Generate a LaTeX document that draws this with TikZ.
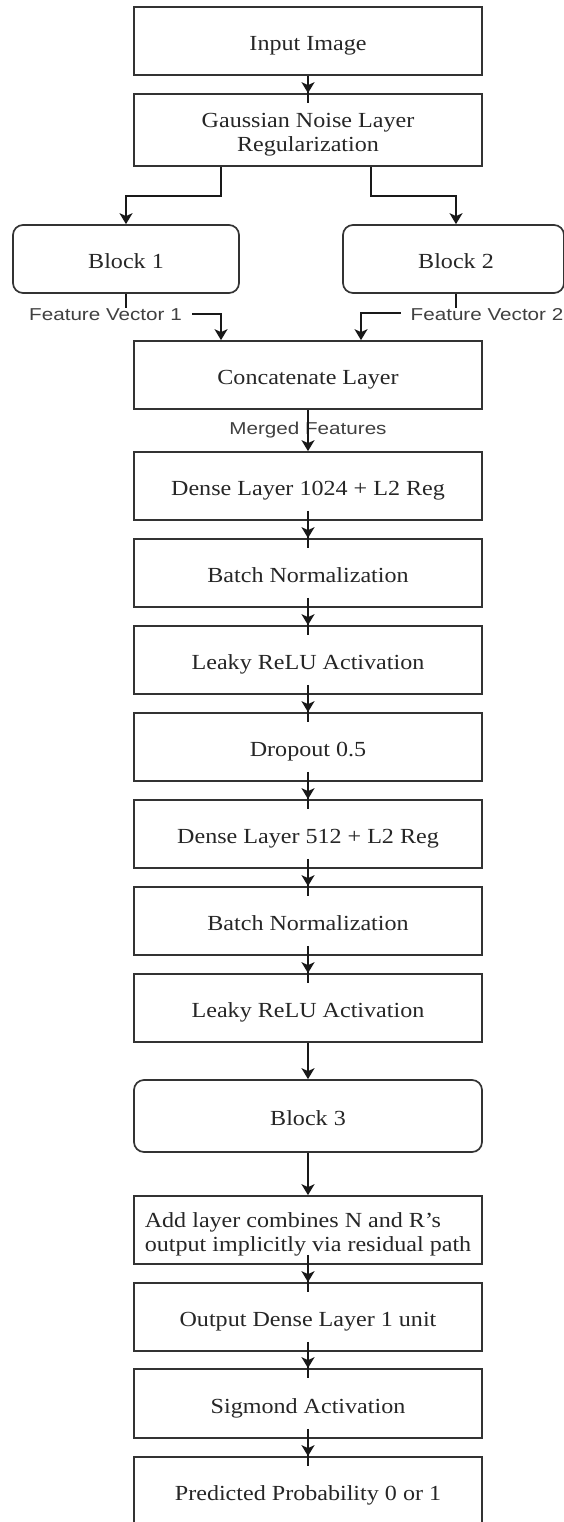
\documentclass[tikz,border=0pt]{standalone}
\usepackage{fontspec}
\setmainfont{Liberation Serif}[FakeStretch=1.12]
\newfontfamily\lblfont{Liberation Sans}[FakeStretch=1.2]
\usetikzlibrary{arrows.meta}

\tikzset{
  layer/.style={draw=black!80, line width=1.7pt, fill=white, text=black!85,
    minimum width=348pt, minimum height=68pt, inner sep=0pt,
    text height=19.7pt, text depth=0pt,
    font=\fontsize{21.5}{24}\selectfont},
  blockbox/.style={layer, rounded corners=10pt},
  edgelabel/.style={text=black!75, inner ysep=1pt, inner xsep=1pt, font=\lblfont\fontsize{17.2}{20}\selectfont},
  wire/.style={draw=black!90, line width=1.7pt},
  flow/.style={wire, -{Stealth[length=11pt,width=13pt,inset=3pt]}},
}

% straight arrow between two stacked layers; the stroke runs a little into both boxes
\newcommand\stackflow[2]{%
  \draw[wire, shorten <=-10pt, shorten >=-10pt] (#1.south) -- (#2.north);
  \draw[flow] (#1.south) -- (#2.north);}

\begin{document}
\begin{tikzpicture}[x=1pt, y=-1pt]
\clip (0,0) rectangle (564,1522);
\fill[white] (0,0) rectangle (564,1522);

% layers
\node[layer] (inp) at (308,41) {Input Image};
\node[layer, minimum height=72pt] (gauss) at (308,130)
  {\begin{tabular}{@{}c@{}}Gaussian Noise Layer\\Regularization\end{tabular}};
\node[blockbox, minimum width=226pt] (b1) at (126,259) {Block 1};
\node[blockbox, minimum width=221pt] (b2) at (453.5,259) {\hspace*{5pt}Block 2};
\node[layer] (concat) at (308,375) {Concatenate Layer};
\node[layer] (d1) at (308,486) {Dense Layer 1024 + L2 Reg};
\node[layer] (bn1) at (308,573) {Batch Normalization};
\node[layer] (lr1) at (308,660) {Leaky ReLU Activation};
\node[layer] (drop) at (308,747) {Dropout 0.5};
\node[layer] (d2) at (308,834) {Dense Layer 512 + L2 Reg};
\node[layer] (bn2) at (308,921) {Batch Normalization};
\node[layer] (lr2) at (308,1008) {Leaky ReLU Activation};
\node[blockbox, minimum height=72pt] (b3) at (308,1116) {Block 3};
\node[layer] (add) at (308,1230)
  {\begin{tabular}{@{}l@{}}Add layer combines N and R's\\output implicitly via residual path\end{tabular}};
\node[layer] (outd) at (308,1317) {Output Dense Layer 1 unit};
\node[layer, minimum height=69pt] (sig) at (308,1403.5) {Sigmond Activation};
\node[layer] (pred) at (308,1491) {Predicted Probability 0 or 1};

% input to noise layer
\draw[wire, shorten >=-10pt] (inp.south) -- (gauss.north);
\draw[flow] (inp.south) -- (gauss.north);

% split into the two blocks
\draw[flow] ([xshift=-87pt]gauss.south) -- ++(0,29) -| (b1.north);
\draw[flow] ([xshift=63pt]gauss.south) -- ++(0,29) -| ([xshift=2.5pt]b2.north);

% feature vectors into the concatenation
\draw[flow] (b1.south) -- ++(0,20) -| ([xshift=-87pt]concat.north);
\node[edgelabel, fill=white, inner xsep=10pt] (fv1) at (105.5,315) {Feature Vector 1};
\draw[flow] ([xshift=2.5pt]b2.south) -- ++(0,19) -| ([xshift=53pt]concat.north);
\node[edgelabel, fill=white, inner xsep=10pt] (fv2) at (487,315) {Feature Vector 2};

% merged features
\node[edgelabel] (merged) at (308,430) {Merged Features};
\draw[flow] (concat.south) -- (d1.north);

% dense head
\stackflow{d1}{bn1}
\stackflow{bn1}{lr1}
\stackflow{lr1}{drop}
\stackflow{drop}{d2}
\stackflow{d2}{bn2}
\stackflow{bn2}{lr2}
\draw[flow] (lr2.south) -- (b3.north);
\draw[flow] (b3.south) -- (add.north);
\stackflow{add}{outd}
\stackflow{outd}{sig}
\stackflow{sig}{pred}
\end{tikzpicture}
\end{document}
